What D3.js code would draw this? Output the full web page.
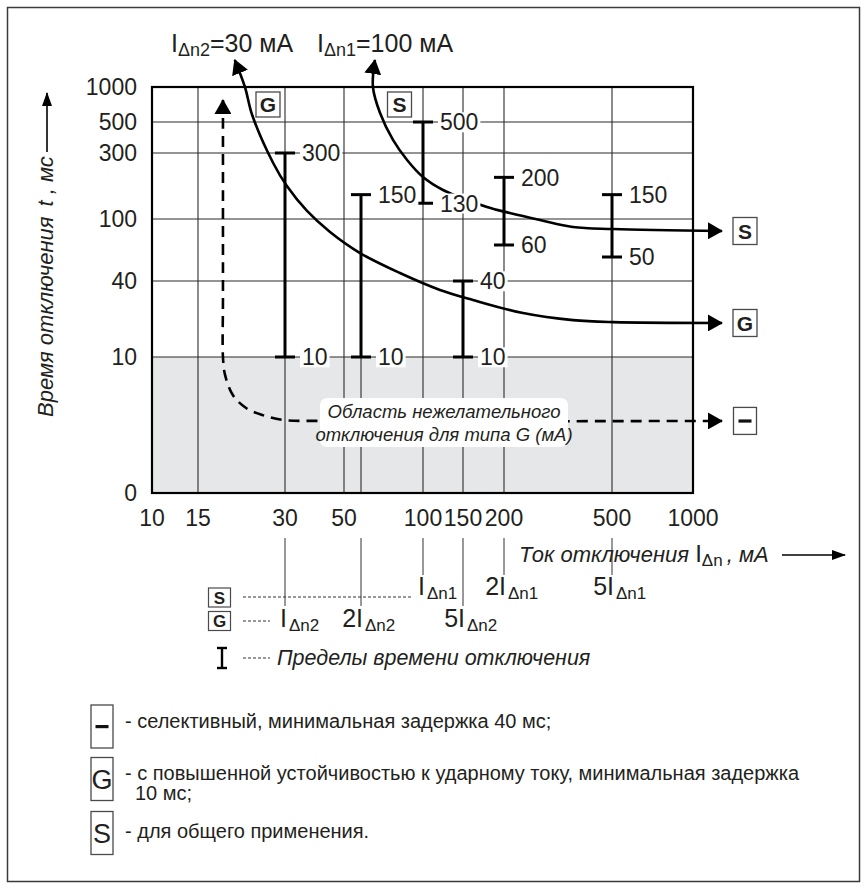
<!DOCTYPE html>
<html><head><meta charset="utf-8">
<script src="https://cdnjs.cloudflare.com/ajax/libs/d3/7.8.5/d3.min.js"></script>
<style>
html,body{margin:0;padding:0;background:#fff;}
text{font-family:"Liberation Sans",Arial,Helvetica,sans-serif;fill:#231f20;}
</style></head><body>
<svg id="chart" width="867" height="889" xmlns="http://www.w3.org/2000/svg"></svg>
<script>
// ---------- data ----------
const xTickValues = [10, 15, 30, 50, 100, 150, 200, 500, 1000];
const yTickValues = [1000, 500, 300, 100, 40, 10, 0];
const xGridValues = [15, 30, 50, 100, 150, 200, 500];
const yGridValues = [500, 300, 100, 40, 10];
const ratedLabels = [{sub: "Δn2", value: 30}, {sub: "Δn1", value: 100}];
// curve G (IΔn2 = 30 mA): [current mA, time ms]
const gCurve = [[20.1,1706],[21.8,1000],[23.1,574],[27.3,254],[30.5,173],[36.3,114.3],[44.3,77.5],[59.4,53.1],[82.7,43.1],[118.8,34],[160.9,28.3],[235,22.3],[359,19.6],[504,18.9],[1281,18.6]];
// curve S (IΔn1 = 100 mA)
const sCurve = [[67.3,1706],[66.2,1000],[70.2,597],[78.1,372],[87.7,267],[100,201],[122.5,162],[177.5,122],[210,110.5],[271.5,98.1],[359,85.5],[504,82.1],[1281,79]];
// dashed curve (unwanted-trip region boundary)
const dashCurve = [[18.3,773],[18.3,137],[18.3,28.3],[18.3,10],[18.6,8.7],[19.8,7.2],[22,6.25],[25,5.74],[29.5,5.37],[40.6,5.3],[1281,5.3]];
// error bars: [current, t min, t max]
const gBars = [[30,10,300],[60,10,150],[150,10,40]];
const sBars = [[100,130,500],[200,60,200],[500,50,150]];
// multiples marked under the axis: [current, prefix]
const sMarks = [[100,""],[200,"2"],[500,"5"]];
const gMarks = [[30,""],[60,"2"],[150,"5"]];
const legendItems = [
  {sym: "–", lines: ["- селективный, минимальная задержка 40 мс;"]},
  {sym: "G", lines: ["- с повышенной устойчивостью к ударному току, минимальная задержка", "10 мс;"]},
  {sym: "S", lines: ["- для общего применения."]}
];

// ---------- scales ----------
const x = d3.scaleLog()
  .domain([10, 15, 30, 50, 60, 100, 150, 200, 500, 1000])
  .range([152, 198, 285, 344, 361, 423, 463, 504, 612, 693]);
const y = d3.scaleLog()
  .domain([10, 40, 50, 60, 100, 300, 500, 1000])
  .range([357, 281, 257, 245, 219, 153, 122, 87]);
const yLow = d3.scaleLinear().domain([0, 10]).range([493, 357]);
const yv = v => (v < 10 ? yLow(v) : y(v));

const svg = d3.select("#chart");
const defs = svg.append("defs");
function marker(id, len, wid) {
  defs.append("marker").attr("id", id)
    .attr("viewBox", `0 0 ${len} ${wid}`).attr("refX", len - 1).attr("refY", wid / 2)
    .attr("markerWidth", len).attr("markerHeight", wid)
    .attr("markerUnits", "userSpaceOnUse").attr("orient", "auto-start-reverse")
    .append("path").attr("d", `M0,0L${len},${wid / 2}L0,${wid}Z`).attr("fill", "#000");
}
marker("arrowBig", 15, 17);
marker("arrowSmall", 14, 10);

// outer frame
svg.append("rect").attr("x", 7.5).attr("y", 7.5).attr("width", 852).attr("height", 874)
  .attr("fill", "none").attr("stroke", "#3a3a3a").attr("stroke-width", 1.5);

const L = x(10), R = x(1000), T = y(1000), B = yLow(0);

// gray region below 10 ms
svg.append("rect").attr("x", L).attr("y", y(10)).attr("width", R - L).attr("height", B - y(10))
  .attr("fill", "#e6e7e8");

// grid
const grid = svg.append("g").attr("stroke", "#2b2b2b").attr("stroke-width", 1.1);
grid.selectAll(".vg").data(xGridValues).join("line")
  .attr("x1", d => x(d)).attr("x2", d => x(d)).attr("y1", T).attr("y2", B);
grid.selectAll(".hg").data(yGridValues).join("line")
  .attr("x1", L).attr("x2", R).attr("y1", d => y(d)).attr("y2", d => y(d));
// continuation of 2·IΔn2 line through the gray zone
grid.append("line").attr("x1", x(60)).attr("x2", x(60)).attr("y1", y(10)).attr("y2", B);

const line = d3.line().x(d => x(d[0])).y(d => yv(d[1])).curve(d3.curveCatmullRom.alpha(0.5));

// dashed curve
svg.append("path").attr("d", line(dashCurve)).attr("fill", "none").attr("stroke", "#000")
  .attr("stroke-width", 2.6).attr("stroke-dasharray", "11,7")
  .attr("marker-start", "url(#arrowBig)").attr("marker-end", "url(#arrowBig)");

// region note
svg.append("rect").attr("x", 320).attr("y", 398).attr("width", 248).attr("height", 49)
  .attr("rx", 7).attr("fill", "#fff");
const note = svg.append("text").attr("text-anchor", "middle").attr("font-size", 18.5)
  .attr("font-style", "italic");
note.append("tspan").attr("x", 444).attr("y", 418).text("Область нежелательного");
note.append("tspan").attr("x", 444).attr("y", 441).text("отключения для типа G (мА)");

// characteristic curves
[gCurve, sCurve].forEach(c => {
  svg.append("path").attr("d", line(c)).attr("fill", "none").attr("stroke", "#000")
    .attr("stroke-width", 2.6)
    .attr("marker-start", "url(#arrowBig)").attr("marker-end", "url(#arrowBig)");
});

// error bars
const bars = svg.append("g").attr("stroke", "#000").attr("stroke-width", 3);
[...gBars, ...sBars].forEach(([c, lo, hi]) => {
  const cx = x(c);
  bars.append("line").attr("x1", cx).attr("x2", cx).attr("y1", yv(lo)).attr("y2", yv(hi));
  [lo, hi].forEach(v => bars.append("line").attr("x1", cx - 10).attr("x2", cx + 10)
    .attr("y1", yv(v)).attr("y2", yv(v)));
});

// bar labels with white background
const labG = svg.append("g");
function bgLabel(px, py, str, fs) {
  const g = labG.append("g");
  const t = g.append("text").attr("x", px).attr("y", py + fs * 0.36).attr("font-size", fs).text(str);
  const bb = t.node().getBBox();
  g.insert("rect", "text").attr("x", bb.x - 2).attr("y", bb.y + 3)
    .attr("width", bb.width + 4).attr("height", bb.height - 6).attr("fill", "#fff");
}
[...gBars, ...sBars].forEach(([c, lo, hi]) => {
  bgLabel(x(c) + 17, yv(hi), String(hi), 23);
  bgLabel(x(c) + 17, yv(lo), String(lo), 23);
});

// small boxed letters
function boxed(cx, cy, w, h, letter, fs, weight, strokeW) {
  const g = svg.append("g");
  g.append("rect").attr("x", cx - w / 2).attr("y", cy - h / 2).attr("width", w).attr("height", h)
    .attr("fill", "#fff").attr("stroke", "#4a4a4a").attr("stroke-width", strokeW);
  if (letter === "–") {
    g.append("rect").attr("x", cx - 6.5).attr("y", cy - 1.5).attr("width", 13).attr("height", 3.2)
      .attr("fill", "#111");
  } else {
    g.append("text").attr("x", cx).attr("y", cy + fs * 0.36).attr("text-anchor", "middle")
      .attr("font-size", fs).attr("font-weight", weight).text(letter);
  }
}
boxed(268, 104.5, 24, 25, "G", 21, "bold", 1.3);
boxed(399.5, 104.5, 24, 25, "S", 21, "bold", 1.3);
boxed(745, yv(sCurve[sCurve.length - 1][1]), 24, 27, "S", 21, "bold", 1.3);
boxed(745, yv(gCurve[gCurve.length - 1][1]), 24, 27, "G", 21, "bold", 1.3);
boxed(745, yv(dashCurve[dashCurve.length - 1][1]), 23, 27, "–", 21, "bold", 1.3);

// plot border
svg.append("rect").attr("x", L).attr("y", T).attr("width", R - L).attr("height", B - T)
  .attr("fill", "none").attr("stroke", "#000").attr("stroke-width", 2.2);

// tick labels
svg.append("g").selectAll("text").data(xTickValues).join("text")
  .attr("x", d => x(d)).attr("y", 526).attr("text-anchor", "middle").attr("font-size", 23)
  .text(d => d);
svg.append("g").selectAll("text").data(yTickValues).join("text")
  .attr("x", 137).attr("y", d => yv(d) + 8).attr("text-anchor", "end").attr("font-size", 23)
  .text(d => d);

// rated current labels on top
const topX = [171, 317];
ratedLabels.forEach((r, i) => {
  const t = svg.append("text").attr("x", topX[i]).attr("y", 52).attr("font-size", 25);
  t.append("tspan").text("I");
  t.append("tspan").attr("font-size", 18).attr("dy", 4).text(r.sub);
  t.append("tspan").attr("dy", -4).text("=" + r.value + " мА");
});

// y axis title
const yt = svg.append("text").attr("transform", "translate(53,417) rotate(-90)")
  .attr("font-size", 22).attr("font-style", "italic");
yt.append("tspan").text("Время отключения");
yt.append("tspan").attr("dx", 10).text("t , мс");
svg.append("line").attr("x1", 47).attr("x2", 47).attr("y1", 152).attr("y2", 93)
  .attr("stroke", "#000").attr("stroke-width", 1.6).attr("marker-end", "url(#arrowSmall)");

// x axis title
const xt = svg.append("text").attr("x", 519).attr("y", 562).attr("font-size", 22);
xt.append("tspan").attr("font-style", "italic").text("Ток отключения ");
xt.append("tspan").attr("font-size", 24).text("I");
xt.append("tspan").attr("font-size", 17).attr("dy", 4).text("Δn");
xt.append("tspan").attr("font-style", "italic").attr("dy", -4).attr("dx", 4).text(", мА");
svg.append("line").attr("x1", 782).attr("x2", 845).attr("y1", 555).attr("y2", 555)
  .attr("stroke", "#000").attr("stroke-width", 1.6).attr("marker-end", "url(#arrowSmall)");

// drop lines and multiple labels under the axis
const drops = svg.append("g").attr("stroke", "#333").attr("stroke-width", 1);
sMarks.forEach(([c]) => drops.append("line").attr("x1", x(c)).attr("x2", x(c)).attr("y1", 538).attr("y2", 575));
gMarks.forEach(([c]) => drops.append("line").attr("x1", x(c)).attr("x2", x(c)).attr("y1", 538).attr("y2", 606));
function multLabel(c, prefix, sub, base) {
  svg.append("text").attr("x", x(c) + 2).attr("y", base).attr("text-anchor", "end")
    .attr("font-size", 25).text(prefix + "I");
  svg.append("text").attr("x", x(c) + 4).attr("y", base + 4).attr("font-size", 17).text(sub);
}
sMarks.forEach(([c, p]) => multLabel(c, p, "Δn1", 595));
gMarks.forEach(([c, p]) => multLabel(c, p, "Δn2", 627));

// key under the axis
boxed(219.5, 597.5, 22, 19, "S", 17, "bold", 1.2);
boxed(219.5, 621, 22, 19, "G", 17, "bold", 1.2);
const dl = svg.append("g").attr("stroke", "#333").attr("stroke-width", 1).attr("stroke-dasharray", "3,2");
dl.append("line").attr("x1", 243).attr("x2", 412).attr("y1", 597).attr("y2", 597);
dl.append("line").attr("x1", 243).attr("x2", 270).attr("y1", 621).attr("y2", 621);
dl.append("line").attr("x1", 243).attr("x2", 270).attr("y1", 658).attr("y2", 658);
const ib = svg.append("g").attr("stroke", "#000").attr("stroke-width", 2.4);
ib.append("line").attr("x1", 222).attr("x2", 222).attr("y1", 648).attr("y2", 668);
ib.append("line").attr("x1", 217).attr("x2", 227).attr("y1", 648).attr("y2", 648);
ib.append("line").attr("x1", 217).attr("x2", 227).attr("y1", 668).attr("y2", 668);
svg.append("text").attr("x", 277).attr("y", 665).attr("font-size", 21.5).attr("font-style", "italic")
  .text("Пределы времени отключения");

// legend
const legY = [726.5, 779, 833];
const legText = [728, 780, 838];
legendItems.forEach((it, i) => {
  boxed(102, legY[i], 22, 43, it.sym, 27, "normal", 1.3);
  it.lines.forEach((ln, j) => {
    svg.append("text").attr("x", j === 0 ? 125 : 135).attr("y", legText[i] + j * 20)
      .attr("font-size", 20).text(ln);
  });
});
</script>
</body></html>
